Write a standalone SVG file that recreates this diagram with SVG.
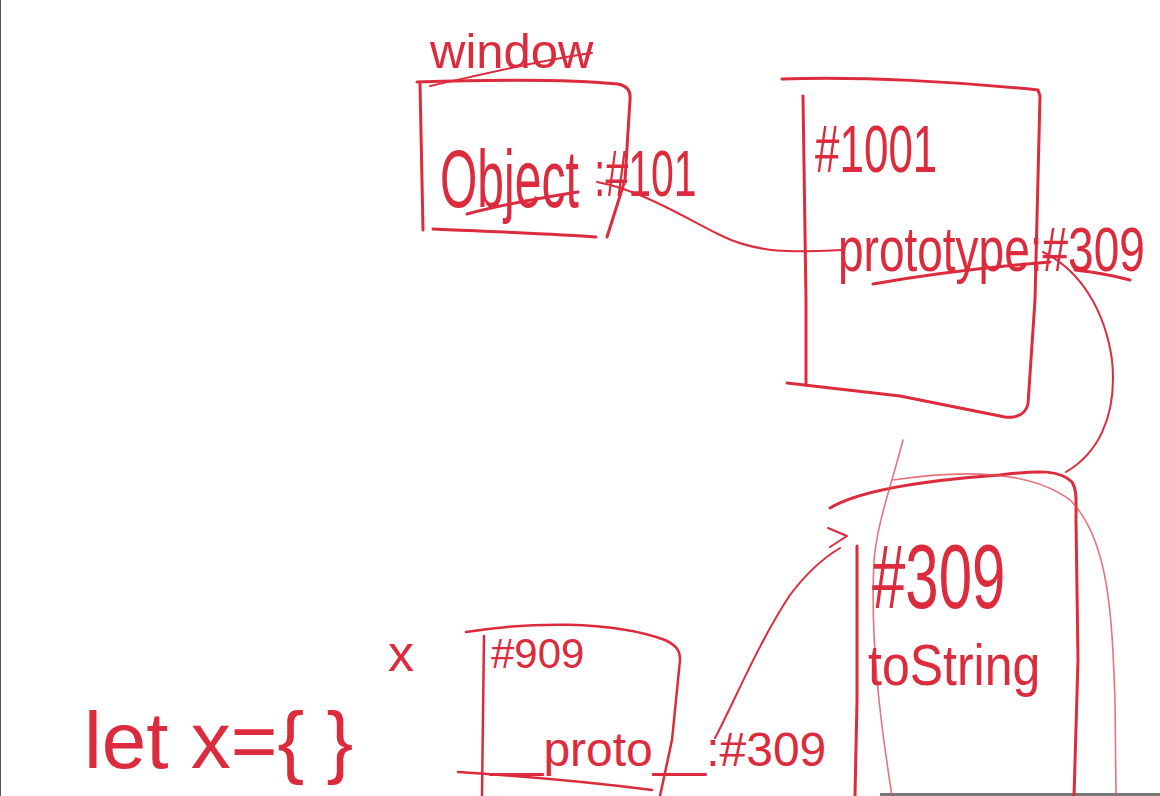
<svg xmlns="http://www.w3.org/2000/svg" width="1160" height="796" viewBox="0 0 1160 796">
<style>
.s{fill:none;stroke:#dc2b3c;stroke-width:3;stroke-linecap:round;stroke-linejoin:round}
.l{fill:none;stroke:#e0505c;stroke-width:1.6;stroke-linecap:round;opacity:.8}
.t{fill:#dc2b3c;font-family:"Liberation Sans",Arial,sans-serif}
</style>
<rect width="1160" height="796" fill="#ffffff"/>
<line x1="0.5" y1="0" x2="0.5" y2="796" stroke="#555" stroke-width="1"/>
<line x1="880" y1="794.5" x2="1160" y2="794.5" stroke="#777" stroke-width="3"/>

<g id="connectors">
<path class="s" d="M597,182 C640,190 680,215 720,235 C760,255 800,252 842,250" style="stroke-width:2"/>
<path class="s" d="M1043,252 C1080,270 1105,310 1112,360 C1118,420 1095,455 1066,472" style="stroke-width:2"/>
<path class="s" d="M715,738 C735,700 760,640 790,595 C805,575 820,560 840,548" style="stroke-width:2"/>
<path class="s" d="M828,528 L847,536 L830,547" style="stroke-width:2"/>
</g>

<g id="window">
<text class="t" x="430" y="68" font-size="49">window</text>
<path class="s" d="M430,86 C480,75 540,60 592,53" style="stroke-width:2"/>
<path class="s" d="M417,82 C480,80 560,78 618,84 C628,86 631,92 630,100 L625,180 L607,237"/>
<path class="s" d="M420,84 L423,230"/>
<path class="s" d="M433,229 C500,232 560,234 596,237"/>
<text class="t" transform="translate(440,207) scale(1,1.7)" font-size="48">Object</text>
<text class="t" transform="translate(594,196) scale(1,1.6)" font-size="41">:#101</text>
<path class="s" d="M467,214 C500,205 540,198 578,192"/>
</g>

<g id="obj1001">
<path class="s" d="M782,79 C860,76 960,82 1038,90 L1040,96 L1035,300 L1028,404 C1025,416 1015,418 1005,417 L900,396 L787,383"/>
<path class="s" d="M803,96 L806,300 L806,385"/>
<text class="t" transform="translate(815,172) scale(1,1.5)" font-size="44">#1001</text>
<text class="t" transform="translate(838,271) scale(1,1.35)" font-size="46">prototype:#309</text>
<path class="s" d="M873,284 C930,274 1000,266 1050,262"/>
<path class="s" d="M1075,270 C1095,272 1115,276 1130,280"/>
</g>

<g id="obj309">
<path class="s" d="M830,508 C860,490 930,480 1000,475 C1040,470 1060,470 1072,482 C1077,490 1076,500 1076,520 L1078,660 L1074,796"/>
<path class="s" d="M857,546 L857,700 L855,796"/>
<path class="l" d="M903,440 C890,490 878,520 874,560 C870,640 880,720 892,796"/>
<path class="l" d="M893,480 C960,470 1030,470 1070,500 C1110,540 1112,620 1115,700 L1116,796"/>
<text class="t" transform="translate(872,608) scale(1,1.5)" font-size="60">#309</text>
<text class="t" transform="translate(868,685) scale(1,1.15)" font-size="50">toString</text>
</g>

<g id="obj909">
<path class="s" d="M466,632 C530,622 610,620 665,640 C678,646 680,652 680,660 L672,740 L660,796" style="stroke-width:2.5"/>
<path class="s" d="M484,636 L482,796" style="stroke-width:2.5"/>
<path class="s" d="M458,772 C520,776 590,782 652,790" style="stroke-width:2.5"/>
<text class="t" x="491" y="668" font-size="42">#909</text>
<text class="t" x="490" y="766" font-size="48">__proto__:#309</text>
</g>

<g id="varx">
<text class="t" x="388" y="671" font-size="52">x</text>
<text class="t" x="84" y="768" font-size="80">let x={ }</text>
</g>
</svg>
